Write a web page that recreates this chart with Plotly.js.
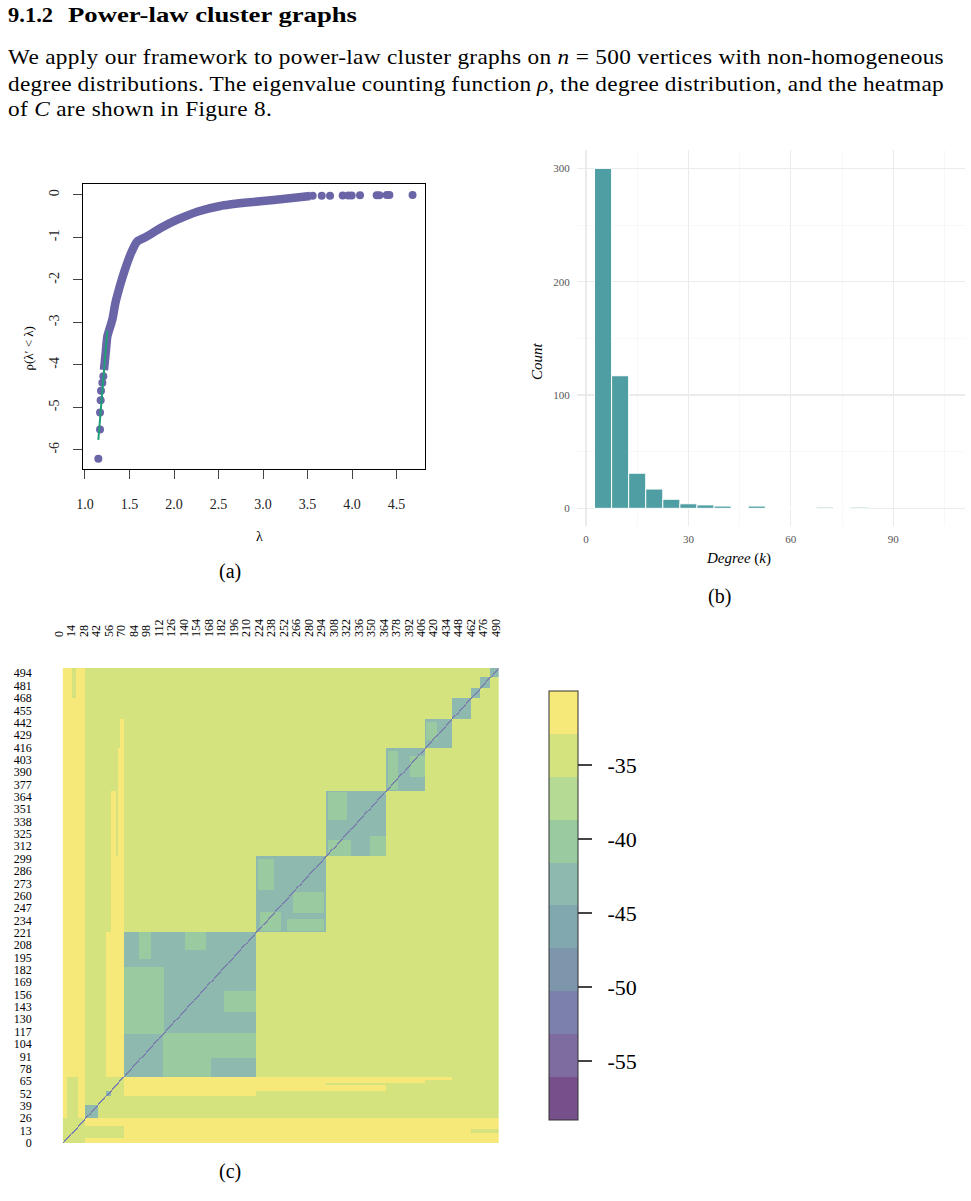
<!DOCTYPE html>
<html>
<head>
<meta charset="utf-8">
<script src="https://cdn.plot.ly/plotly-3.0.1.min.js"></script>
<style>
  body { margin: 0; background: #fff; }
  #page { position: relative; width: 971px; height: 1201px; overflow: hidden; }
  #chart { position: absolute; left: 0; top: 0; width: 971px; height: 1201px; }
  .t { position: absolute; white-space: nowrap; font-family: 'Liberation Serif', serif; line-height: 1; color: #000; transform-origin: 0 50%; }
  .p { font-size: 21px; letter-spacing: 0.3px; }
</style>
</head>
<body>
<div id="page">
  <div id="chart"></div>
  <div id="h1" class="t" style="left:8px;top:5px;font-size:21px;font-weight:bold">9.1.2</div>
  <div id="h2" class="t" style="left:68px;top:5px;font-size:21px;font-weight:bold">Power-law cluster graphs</div>
  <div id="l1" class="t p" style="left:8px;top:47px">We apply our framework to power-law cluster graphs on <i>n</i> = 500 vertices with non-homogeneous</div>
  <div id="l2" class="t p" style="left:8px;top:74px">degree distributions. The eigenvalue counting function <i>ρ</i>, the degree distribution, and the heatmap</div>
  <div id="l3" class="t p" style="left:8px;top:99px">of <i>C</i> are shown in Figure 8.</div>
</div>
<script>
// ---------------- (a) eigenvalue counting function ----------------
const lambdaBand = [1.213, 1.232, 1.251, 1.307, 1.341, 1.39, 1.449, 1.517, 1.584, 1.693, 1.85, 2.03, 2.27, 2.52, 2.82, 3.12, 3.38, 3.53];
const rhoBand    = [-4.12, -3.73, -3.33, -2.94, -2.55, -2.16, -1.76, -1.37, -1.10, -0.98, -0.78, -0.59, -0.39, -0.26, -0.18, -0.12, -0.063, -0.024];
const lambdaLow  = [1.15, 1.169, 1.169, 1.176, 1.18, 1.195, 1.206];
const rhoLow     = [-6.21, -5.52, -5.12, -4.83, -4.61, -4.42, -4.27];
const lambdaHigh = [3.558, 3.66, 3.753, 3.895, 3.958, 3.996, 4.09, 4.277, 4.307, 4.39, 4.42, 4.68];
const rhoHigh    = [-0.022, -0.02, -0.018, -0.016, -0.014, -0.012, -0.01, -0.008, -0.006, -0.004, -0.002, 0];
const fitLambda  = [1.15, 1.251];
const fitRho     = [-5.765, -3.19];
const aXTicks    = [1.0, 1.5, 2.0, 2.5, 3.0, 3.5, 4.0, 4.5];
const aXLabels   = ['1.0', '1.5', '2.0', '2.5', '3.0', '3.5', '4.0', '4.5'];
const aYTicks    = [0, -1, -2, -3, -4, -5, -6];
const aYLabels   = ['0', '-1', '-2', '-3', '-4', '-5', '-6'];

// ---------------- (b) degree histogram ----------------
const degreeBins   = [5, 10, 15, 20, 25, 30, 35, 40, 45, 50, 55, 60, 65, 70, 75, 80];
const degreeCounts = [300, 117, 31, 17, 8, 4, 3, 2, 0, 2, 0, 0, 0, 1, 0, 1];
const binWidth = 5;

// ---------------- (c) heatmap of C ----------------
const nNodes = 500;
const valueYellow = -31.5, valueBackground = -34.4, valueLight = -40.2, valueCluster = -43.0, valueDiagonal = -51.8;
// symmetric regions: [rowStart, rowEnd, colStart, colEnd] (also applied transposed)
const yellowRegions = [
  [0, 25, 26, 499], [70, 221, 50, 69], [222, 445, 66, 69], [222, 415, 63, 65], [222, 370, 55, 60], [222, 301, 61, 62]
];
const backgroundRegions = [
  [26, 69, 5, 17], [468, 499, 11, 14]
];
const clusterStart = [26, 50, 70, 222, 302, 371, 416, 446, 468, 479, 490];
const clusterEnd   = [39, 54, 221, 301, 370, 415, 445, 467, 478, 489, 499];
// lighter patches inside clusters (literal, not mirrored)
const lightPatches = [
  [115, 184, 70, 115], [194, 221, 88, 100], [203, 221, 140, 163], [70, 115, 115, 169], [89, 115, 169, 221], [138, 159, 185, 221],
  [266, 298, 224, 241], [242, 263, 264, 299], [223, 242, 226, 249], [223, 235, 257, 299],
  [340, 368, 304, 325], [302, 318, 304, 330], [302, 322, 352, 370],
  [372, 412, 373, 384], [385, 406, 398, 414],
  [424, 442, 417, 428]
];
const xTickValues = [0,14,28,42,56,70,84,98,112,126,140,154,168,182,196,210,224,238,252,266,280,294,308,322,336,350,364,378,392,406,420,434,448,462,476,490];
const yTickValues = [0,13,26,39,52,65,78,91,104,117,130,143,156,169,182,195,208,221,234,247,260,273,286,299,312,325,338,351,364,377,390,403,416,429,442,455,468,481,494];
const binColors = ['#774f8b', '#7e6ba0', '#7c80ac', '#7d96ac', '#80a8ae', '#8db9ae', '#9acba0', '#b5da94', '#d4e37e', '#f7e87a'];
const colorMin = -59, colorMax = -30;
const cbTicks = [-55, -50, -45, -40, -35];
const cbLabels = ['-55', '-50', '-45', '-40', '-35'];

// build matrix
const z = [];
for (let r = 0; r < nNodes; r++) z.push(new Array(nNodes).fill(valueBackground));
function fillRect(r0, r1, c0, c1, v, mirror) {
  for (let r = r0; r <= r1; r++) for (let c = c0; c <= c1; c++) {
    z[r][c] = v;
    if (mirror) z[c][r] = v;
  }
}
yellowRegions.forEach(a => fillRect(a[0], a[1], a[2], a[3], valueYellow, true));
backgroundRegions.forEach(a => fillRect(a[0], a[1], a[2], a[3], valueBackground, true));
clusterStart.forEach((s, i) => fillRect(s, clusterEnd[i], s, clusterEnd[i], valueCluster, false));
lightPatches.forEach(a => fillRect(a[0], a[1], a[2], a[3], valueLight, false));
for (let i = 0; i < nNodes; i++) { z[i][i] = valueDiagonal; if (i + 1 < nNodes) z[i][i + 1] = valueDiagonal; }

const colorscale = [];
binColors.forEach((c, k) => { colorscale.push([k / binColors.length, c]); colorscale.push([(k + 1) / binColors.length, c]); });

const W = 971, H = 1201;
const px = v => v / W, py = v => 1 - v / H;
const serif = 'Liberation Serif, serif';
const pad = s => '\u00a0\u00a0' + s;

const traces = [
  { type: 'scatter', mode: 'lines', x: lambdaBand, y: rhoBand, xaxis: 'x', yaxis: 'y',
    line: { color: '#6965a6', width: 8.5, shape: 'spline', smoothing: 0.4 }, hoverinfo: 'skip', showlegend: false },
  { type: 'scatter', mode: 'markers', x: lambdaLow, y: rhoLow, xaxis: 'x', yaxis: 'y',
    marker: { color: '#6965a6', size: 8 }, showlegend: false },
  { type: 'scatter', mode: 'markers', x: lambdaHigh, y: rhoHigh, xaxis: 'x', yaxis: 'y',
    marker: { color: '#6965a6', size: 8 }, showlegend: false },
  { type: 'scatter', mode: 'lines', x: fitLambda, y: fitRho, xaxis: 'x', yaxis: 'y',
    line: { color: '#1f9e78', width: 2 }, showlegend: false },
  { type: 'bar', x: degreeBins, y: degreeCounts, width: binWidth, xaxis: 'x2', yaxis: 'y2',
    marker: { color: '#4f9ea3', line: { color: '#ffffff', width: 1 } }, showlegend: false },
  { type: 'heatmap', z: z, xaxis: 'x3', yaxis: 'y3', zmin: colorMin, zmax: colorMax, zsmooth: false,
    colorscale: colorscale, hoverinfo: 'skip',
    colorbar: { x: px(549), xanchor: 'left', xpad: 0, y: py(905.5), yanchor: 'middle', ypad: 0,
      len: 429 / H, lenmode: 'fraction', thickness: 29, thicknessmode: 'pixels',
      outlinewidth: 1, outlinecolor: '#333', ticks: 'outside', ticklen: 14, tickwidth: 1.5, tickcolor: '#444',
      tickmode: 'array', tickvals: cbTicks, ticktext: cbLabels.map(pad), tickfont: { family: serif, size: 22, color: '#000' } } },
  { type: 'scatter', x: [], y: [], xaxis: 'x4', yaxis: 'y3', showlegend: false, hoverinfo: 'skip' }
];

const layout = {
  width: W, height: H, margin: { l: 0, r: 0, t: 0, b: 0 },
  paper_bgcolor: '#fff', plot_bgcolor: 'rgba(0,0,0,0)', showlegend: false,
  font: { family: serif, color: '#000' },
  xaxis: { domain: [px(83.3), px(425)], range: [0.981, 4.82], anchor: 'y', tickmode: 'array', tickvals: aXTicks, ticktext: aXLabels,
    ticks: 'outside', ticklen: 9, tickwidth: 1, tickcolor: '#444', showline: true, mirror: true, linecolor: '#000', linewidth: 1,
    showgrid: false, zeroline: false, tickfont: { family: serif, size: 14, color: '#222' }, ticklabelstandoff: 13 },
  yaxis: { domain: [py(469), py(184.3)], range: [-6.45, 0.25], anchor: 'x', tickmode: 'array', tickvals: aYTicks, ticktext: aYLabels,
    tickangle: -90, ticks: 'outside', ticklen: 9, tickwidth: 1, tickcolor: '#444', showline: true, mirror: true, linecolor: '#000', linewidth: 1,
    showgrid: false, zeroline: false, tickfont: { family: serif, size: 14, color: '#222' }, ticklabelstandoff: 9 },
  xaxis2: { domain: [px(576.7), px(965)], range: [-2.72, 111], anchor: 'y2', tick0: 0, dtick: 30, ticks: '',
    showgrid: true, gridcolor: '#ebebeb', gridwidth: 1.1, zeroline: false, showline: false,
    minor: { dtick: 15, tick0: 0, showgrid: true, gridcolor: '#f3f3f3', gridwidth: 0.6 },
    tickfont: { family: serif, size: 11, color: '#555' }, ticklabelstandoff: 5 },
  yaxis2: { domain: [py(526), py(150)], range: [-15.6, 316.2], anchor: 'x2', tick0: 0, dtick: 100, ticks: '',
    showgrid: true, gridcolor: '#ebebeb', gridwidth: 1.1, zeroline: false, showline: false,
    minor: { dtick: 50, tick0: 0, showgrid: true, gridcolor: '#f3f3f3', gridwidth: 0.6 },
    tickfont: { family: serif, size: 11, color: '#555' }, ticklabelstandoff: 6 },
  xaxis3: { domain: [px(62.7), px(499)], range: [-0.5, 499.5], anchor: 'y3', showticklabels: false, ticks: '',
    showgrid: false, zeroline: false, showline: false },
  yaxis3: { domain: [py(1143.3), py(668)], range: [-0.5, 499.5], anchor: 'x3', tickmode: 'array', tickvals: yTickValues,
    ticktext: yTickValues.map(String), ticks: '', showgrid: false, zeroline: false, showline: false,
    tickfont: { family: serif, size: 12, color: '#000' }, ticklabelstandoff: 30 },
  xaxis4: { domain: [px(58.55), px(504.5)], range: [-0.5, 499.5], anchor: 'y3', side: 'top', tickmode: 'array', tickvals: xTickValues,
    ticktext: xTickValues.map(String), tickangle: -90, ticks: '', showgrid: false, zeroline: false, showline: false,
    tickfont: { family: serif, size: 12, color: '#000' }, ticklabelstandoff: 30 },
  annotations: [
    { text: 'λ', x: px(254), y: py(537), xref: 'paper', yref: 'paper', showarrow: false, font: { family: serif, size: 14 } },
    { text: 'ρ(λ′ < λ)', x: px(18), y: py(325), xref: 'paper', yref: 'paper', showarrow: false, textangle: -90, font: { family: serif, size: 13 } },
    { text: '(a)', x: px(217), y: py(571), xref: 'paper', yref: 'paper', showarrow: false, font: { family: serif, size: 20 } },
    { text: '<i>Count</i>', x: px(537), y: py(340), xref: 'paper', yref: 'paper', showarrow: false, textangle: -90, font: { family: serif, size: 15 } },
    { text: '<i>Degree</i> (<i>k</i>)', x: px(773), y: py(558), xref: 'paper', yref: 'paper', showarrow: false, font: { family: serif, size: 15 } },
    { text: '(b)', x: px(733), y: py(596), xref: 'paper', yref: 'paper', showarrow: false, font: { family: serif, size: 20 } },
    { text: '(c)', x: px(217), y: py(1185), xref: 'paper', yref: 'paper', showarrow: false, font: { family: serif, size: 20 } }
  ]
};

Plotly.newPlot('chart', traces, layout, { staticPlot: true, displayModeBar: false });

// fit the page text: stretch glyphs horizontally (Computer Modern is wider than Times)
function width(id) { return document.getElementById(id).getBoundingClientRect().width; }
function stretch(id, s) { document.getElementById(id).style.transform = 'scaleX(' + s + ')'; }
const s1 = 936 / width('l1');
stretch('l1', s1);
stretch('l3', s1);
(function () {
  const el = document.getElementById('l2');
  const n = (el.textContent.match(/ /g) || []).length;
  el.style.wordSpacing = ((936 / s1 - width('l2')) / n) + 'px';
  stretch('l2', s1);
})();
stretch('h1', 45 / width('h1'));
stretch('h2', 289 / width('h2'));
</script>
</body>
</html>
